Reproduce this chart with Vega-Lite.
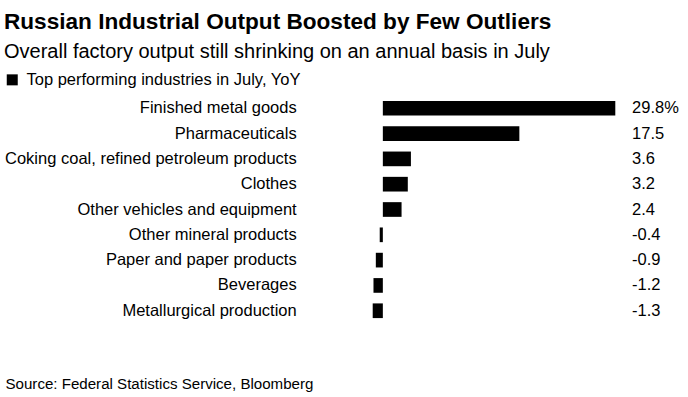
{
  "$schema": "https://vega.github.io/schema/vega-lite/v6.json",
  "width": 242.6,
  "height": 227.8,
  "autosize": {"type": "none"},
  "padding": {"left": 372.7, "top": 95.6, "right": 72.7, "bottom": 73.6},
  "background": "white",
  "config": {"view": {"stroke": null}, "font": "Liberation Sans, Arial"},
  "title": {
    "text": "Russian Industrial Output Boosted by Few Outliers",
    "subtitle": "Overall factory output still shrinking on an annual basis in July",
    "anchor": "start",
    "frame": "bounds",
    "fontSize": 22.6,
    "fontWeight": "bold",
    "color": "#000",
    "subtitleFontSize": 20,
    "subtitleColor": "#000",
    "subtitlePadding": 8.5,
    "offset": 10
  },
  "data": {"values": [
    {"industry": "Finished metal goods", "value": 29.8, "label": "29.8%"},
    {"industry": "Pharmaceuticals", "value": 17.5, "label": "17.5"},
    {"industry": "Coking coal, refined petroleum products", "value": 3.6, "label": "3.6"},
    {"industry": "Clothes", "value": 3.2, "label": "3.2"},
    {"industry": "Other vehicles and equipment", "value": 2.4, "label": "2.4"},
    {"industry": "Other mineral products", "value": -0.4, "label": "-0.4"},
    {"industry": "Paper and paper products", "value": -0.9, "label": "-0.9"},
    {"industry": "Beverages", "value": -1.2, "label": "-1.2"},
    {"industry": "Metallurgical production", "value": -1.3, "label": "-1.3"}
  ]},
  "encoding": {
    "y": {
      "field": "industry", "type": "nominal", "sort": null,
      "scale": {"paddingInner": 0.42, "paddingOuter": 0.21},
      "axis": {"title": null, "domain": false, "ticks": false, "grid": false, "labelPadding": 76.5, "labelFontSize": 16.5, "labelColor": "#000", "labelLimit": 400}
    }
  },
  "layer": [
    {
      "mark": {"type": "bar"},
      "encoding": {
        "x": {
          "field": "value", "type": "quantitative",
          "scale": {"domain": [-1.3, 29.8], "nice": false, "zero": false},
          "axis": {"labels": false, "ticks": false, "domain": false, "grid": false,
            "title": "Source: Federal Statistics Service, Bloomberg",
            "titleAnchor": "start", "titleAlign": "left", "titleX": -367.7, "titleY": 64.6,
            "titleBaseline": "alphabetic", "titleFontWeight": "normal", "titleFontSize": 15.1, "titleColor": "#000"}
        },
        "x2": {"datum": 0},
        "color": {
          "datum": "Top performing industries in July, YoY",
          "scale": {"range": ["#000000"]},
          "legend": {"title": null, "orient": "none", "legendX": -368.7, "legendY": -24, "symbolType": "square", "symbolSize": 121, "symbolStrokeWidth": 0, "labelFontSize": 16.5, "labelColor": "#000", "labelOffset": 6, "labelLimit": 400}
        }
      }
    },
    {
      "mark": {"type": "text", "align": "left", "baseline": "middle", "fontSize": 16.5, "color": "#000"},
      "encoding": {
        "x": {"datum": 31.95},
        "text": {"field": "label"}
      }
    }
  ]
}
